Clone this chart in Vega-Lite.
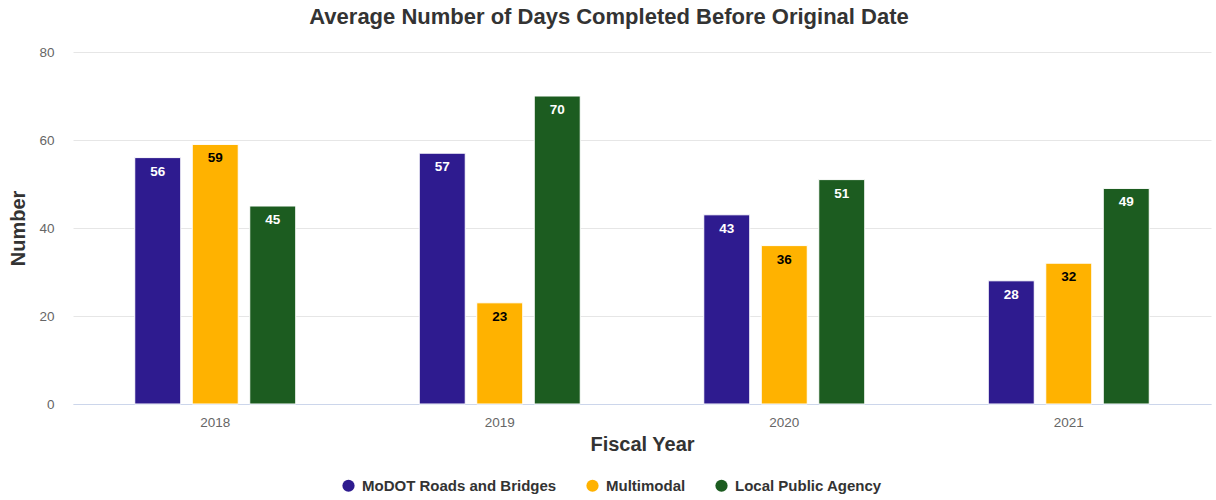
{
  "$schema": "https://vega.github.io/schema/vega-lite/v6.json",
  "width": 1138,
  "height": 352,
  "autosize": {"type": "none"},
  "padding": {"left": 73, "top": 52, "right": 5, "bottom": 96},
  "background": "#ffffff",
  "config": {"view": {"stroke": null}},
  "title": {
    "text": "Average Number of Days Completed Before Original Date",
    "anchor": "middle",
    "frame": "group",
    "dx": -33,
    "offset": 16,
    "font": "Liberation Sans",
    "fontSize": 22,
    "fontWeight": "bold",
    "color": "#333333"
  },
  "data": {
    "values": [
      {"Year": "2018", "Series": "MoDOT Roads and Bridges", "Value": 56},
      {"Year": "2018", "Series": "Multimodal", "Value": 59},
      {"Year": "2018", "Series": "Local Public Agency", "Value": 45},
      {"Year": "2019", "Series": "MoDOT Roads and Bridges", "Value": 57},
      {"Year": "2019", "Series": "Multimodal", "Value": 23},
      {"Year": "2019", "Series": "Local Public Agency", "Value": 70},
      {"Year": "2020", "Series": "MoDOT Roads and Bridges", "Value": 43},
      {"Year": "2020", "Series": "Multimodal", "Value": 36},
      {"Year": "2020", "Series": "Local Public Agency", "Value": 51},
      {"Year": "2021", "Series": "MoDOT Roads and Bridges", "Value": 28},
      {"Year": "2021", "Series": "Multimodal", "Value": 32},
      {"Year": "2021", "Series": "Local Public Agency", "Value": 49}
    ]
  },
  "encoding": {
    "x": {
      "field": "Year",
      "type": "nominal",
      "scale": {"paddingInner": 0.3937, "paddingOuter": 0.1968},
      "axis": {
        "title": "Fiscal Year",
        "labelAngle": 0,
        "ticks": false,
        "domainColor": "#ccd6eb",
        "labelColor": "#666666",
        "labelFont": "Liberation Sans",
        "labelFontSize": 13.5,
        "labelPadding": 11,
        "titleFont": "Liberation Sans",
        "titleFontSize": 20,
        "titleFontWeight": "bold",
        "titleColor": "#333333",
        "titlePadding": 6,
        "grid": false
      }
    },
    "xOffset": {
      "field": "Series",
      "type": "nominal",
      "sort": ["MoDOT Roads and Bridges", "Multimodal", "Local Public Agency"],
      "scale": {"paddingInner": 0.2, "paddingOuter": 0.1}
    },
    "y": {
      "field": "Value",
      "type": "quantitative",
      "scale": {"domain": [0, 80]},
      "axis": {
        "title": "Number",
        "values": [0, 20, 40, 60, 80],
        "domain": false,
        "ticks": false,
        "gridColor": "#e6e6e6",
        "labelColor": "#666666",
        "labelFont": "Liberation Sans",
        "labelFontSize": 13.5,
        "labelPadding": 19,
        "titleFont": "Liberation Sans",
        "titleFontSize": 20,
        "titleFontWeight": "bold",
        "titleColor": "#333333",
        "titlePadding": 10
      }
    }
  },
  "layer": [
    {
      "mark": {"type": "bar", "stroke": "#ffffff", "strokeWidth": 1},
      "encoding": {
        "color": {
          "field": "Series",
          "type": "nominal",
          "sort": ["MoDOT Roads and Bridges", "Multimodal", "Local Public Agency"],
          "scale": {
            "domain": ["MoDOT Roads and Bridges", "Multimodal", "Local Public Agency"],
            "range": ["#2e1b8f", "#ffb200", "#1c5c20"]
          },
          "legend": {
            "title": null,
            "orient": "none",
            "direction": "horizontal",
            "legendX": 268,
            "legendY": 426,
            "symbolType": "circle",
            "symbolSize": 150,
            "symbolStrokeWidth": 0,
            "labelFont": "Liberation Sans",
            "labelFontSize": 15,
            "labelFontWeight": "bold",
            "labelColor": "#333333",
            "labelOffset": 6,
            "labelLimit": 0,
            "columnPadding": 28
          }
        }
      }
    },
    {
      "mark": {
        "type": "text",
        "baseline": "middle",
        "dy": 14,
        "font": "Liberation Sans",
        "fontSize": 13.5,
        "fontWeight": "bold"
      },
      "encoding": {
        "text": {"field": "Value", "type": "quantitative"},
        "color": {
          "condition": {"test": "datum.Series === 'Multimodal'", "value": "#000000"},
          "value": "#ffffff"
        }
      }
    }
  ]
}
